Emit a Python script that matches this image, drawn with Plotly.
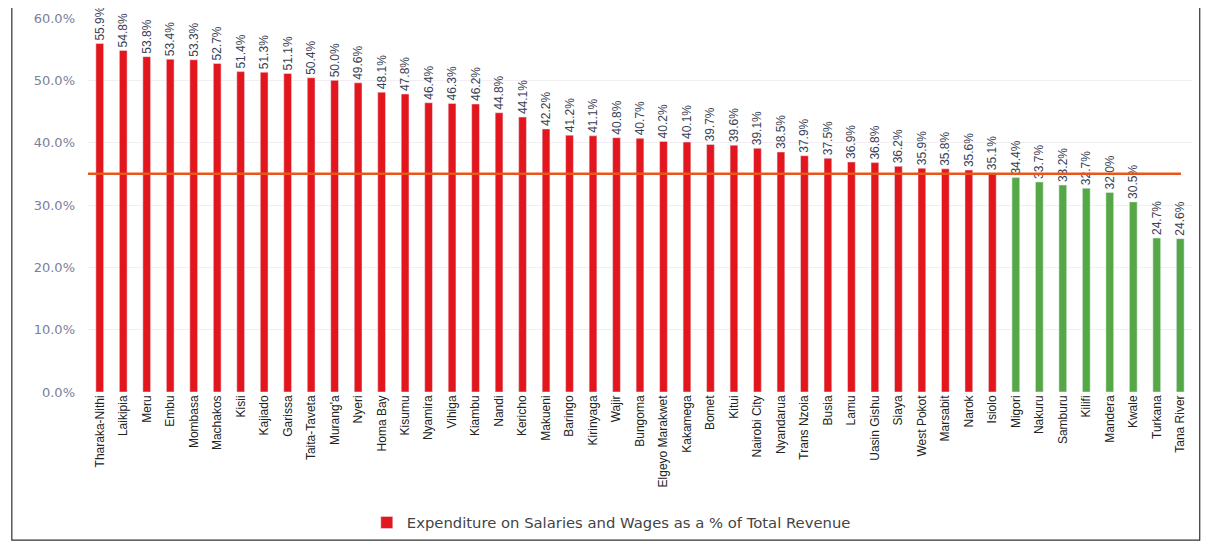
import plotly.graph_objects as go

counties = [
    "Tharaka-Nithi", "Laikipia", "Meru", "Embu", "Mombasa", "Machakos", "Kisii",
    "Kajiado", "Garissa", "Taita-Taveta", "Murang'a", "Nyeri", "Homa Bay", "Kisumu",
    "Nyamira", "Vihiga", "Kiambu", "Nandi", "Kericho", "Makueni", "Baringo",
    "Kirinyaga", "Wajir", "Bungoma", "Elgeyo Marakwet", "Kakamega", "Bomet", "Kitui",
    "Nairobi City", "Nyandarua", "Trans Nzoia", "Busia", "Lamu", "Uasin Gishu",
    "Siaya", "West Pokot", "Marsabit", "Narok", "Isiolo", "Migori", "Nakuru",
    "Samburu", "Kilifi", "Mandera", "Kwale", "Turkana", "Tana River",
]
wage_pct = [
    55.9, 54.8, 53.8, 53.4, 53.3, 52.7, 51.4,
    51.3, 51.1, 50.4, 50.0, 49.6, 48.1, 47.8,
    46.4, 46.3, 46.2, 44.8, 44.1, 42.2, 41.2,
    41.1, 40.8, 40.7, 40.2, 40.1, 39.7, 39.6,
    39.1, 38.5, 37.9, 37.5, 36.9, 36.8,
    36.2, 35.9, 35.8, 35.6, 35.1, 34.4, 33.7,
    33.2, 32.7, 32.0, 30.5, 24.7, 24.6,
]
ceiling = 35.0

RED = "#e3161d"
GREEN = "#56a846"
FONT = "Liberation Sans Narrow, Arial Narrow, sans-serif"

colors = [RED if v > ceiling else GREEN for v in wage_pct]

fig = go.Figure()
fig.add_trace(go.Bar(
    x=counties, y=wage_pct,
    marker_color=colors,
    width=0.33,
    name="Expenditure on Salaries and Wages as a % of Total Revenue",
    text=[f"{v:.1f}%" for v in wage_pct],
    textposition="outside",
    textangle=-90,
    constraintext="none",
    cliponaxis=False,
    textfont=dict(family=FONT, size=12, color="#3a3f55"),
))

fig.add_hline(y=ceiling, x0=0.0, x1=0.99, line_color="#e8561c", line_width=2.5)

# outer frame
fig.add_shape(type="rect", xref="paper", yref="paper",
              x0=-0.069, x1=1.007, y0=-0.396, y1=1.035,
              line=dict(color="#333333", width=1.2), fillcolor="rgba(0,0,0,0)")

# page body adds 8px offset, so figure is sized to the remaining viewport
fig.update_layout(
    width=1201, height=540,
    margin=dict(l=80, r=17, t=10, b=156, autoexpand=False),
    plot_bgcolor="white", paper_bgcolor="white",
    font=dict(family=FONT, size=12, color="#333333"),
    showlegend=True,
    legend=dict(orientation="h", x=0.474, xanchor="center", y=-0.35, yanchor="middle",
                font=dict(family="DejaVu Sans, sans-serif", size=14.8, color="#444444")),
    bargap=0.6,
)
fig.update_xaxes(tickangle=-90, tickfont=dict(family=FONT, size=12, color="#222222"),
                 showline=False, ticks="", automargin=False,
                 range=[-0.5, len(counties) - 0.5])
fig.update_yaxes(range=[0, 60], dtick=10, tickformat=".1f", ticksuffix="%",
                 tickfont=dict(family="DejaVu Sans, sans-serif", size=13, color="#7a7f9a"),
                 showgrid=True, gridcolor="#f3eef3", zeroline=False, ticks="",
                 showline=False, automargin=False, ticklabelstandoff=12)

fig.write_html("out.html")
